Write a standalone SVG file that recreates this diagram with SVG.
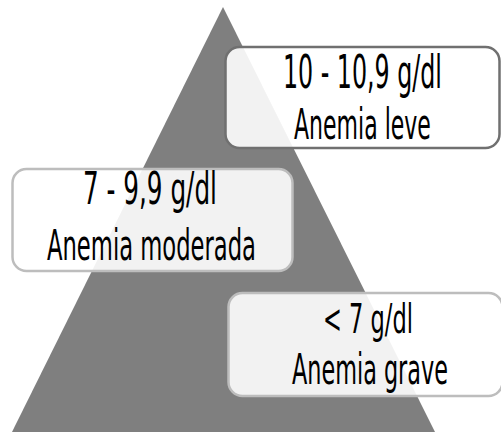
<svg xmlns="http://www.w3.org/2000/svg" width="501" height="432" viewBox="0 0 501 432">
<style>
.box{fill:#ffffff;fill-opacity:0.9;stroke-width:2.5}
.light{stroke:#bdbdbd}
.dark{stroke:#707070}
.t{font-family:"DejaVu Sans","Liberation Sans",sans-serif;font-stretch:condensed;fill:#000000;text-anchor:start}
</style>
<rect width="501" height="432" fill="#ffffff"/>
<g id="pyramid">
<polygon points="223,7 11,434 436,434" fill="#7f7f7f"/>
</g>
<g id="connectors"></g>
<g id="node-leve">
<rect class="box dark" x="225.5" y="47" width="274" height="101" rx="14"/>
<text class="t" transform="scale(0.55,1)" x="514.5" y="88" font-size="47" textLength="289" lengthAdjust="spacingAndGlyphs">10 -  10,9 g/dl</text>
<text class="t" transform="scale(0.55,1)" x="534.5" y="139" font-size="42" textLength="249" lengthAdjust="spacingAndGlyphs">Anemia leve</text>
</g>
<g id="node-moderada">
<rect class="box light" x="12.5" y="169" width="280" height="102" rx="14"/>
<text class="t" transform="scale(0.55,1)" x="150.9" y="204" font-size="44" textLength="243.6" lengthAdjust="spacingAndGlyphs">7 - 9,9 g/dl</text>
<text class="t" transform="scale(0.55,1)" x="85.5" y="260" font-size="43" textLength="380" lengthAdjust="spacingAndGlyphs">Anemia moderada</text>
</g>
<g id="node-grave">
<rect class="box light" x="228.5" y="293" width="274" height="103" rx="14"/>
<text class="t" transform="scale(0.55,1)" x="587.3" y="333" font-size="41" textLength="163.6" lengthAdjust="spacingAndGlyphs">&lt; 7 g/dl</text>
<text class="t" transform="scale(0.55,1)" x="530.9" y="384" font-size="42" textLength="283.6" lengthAdjust="spacingAndGlyphs">Anemia grave</text>
</g>
</svg>
